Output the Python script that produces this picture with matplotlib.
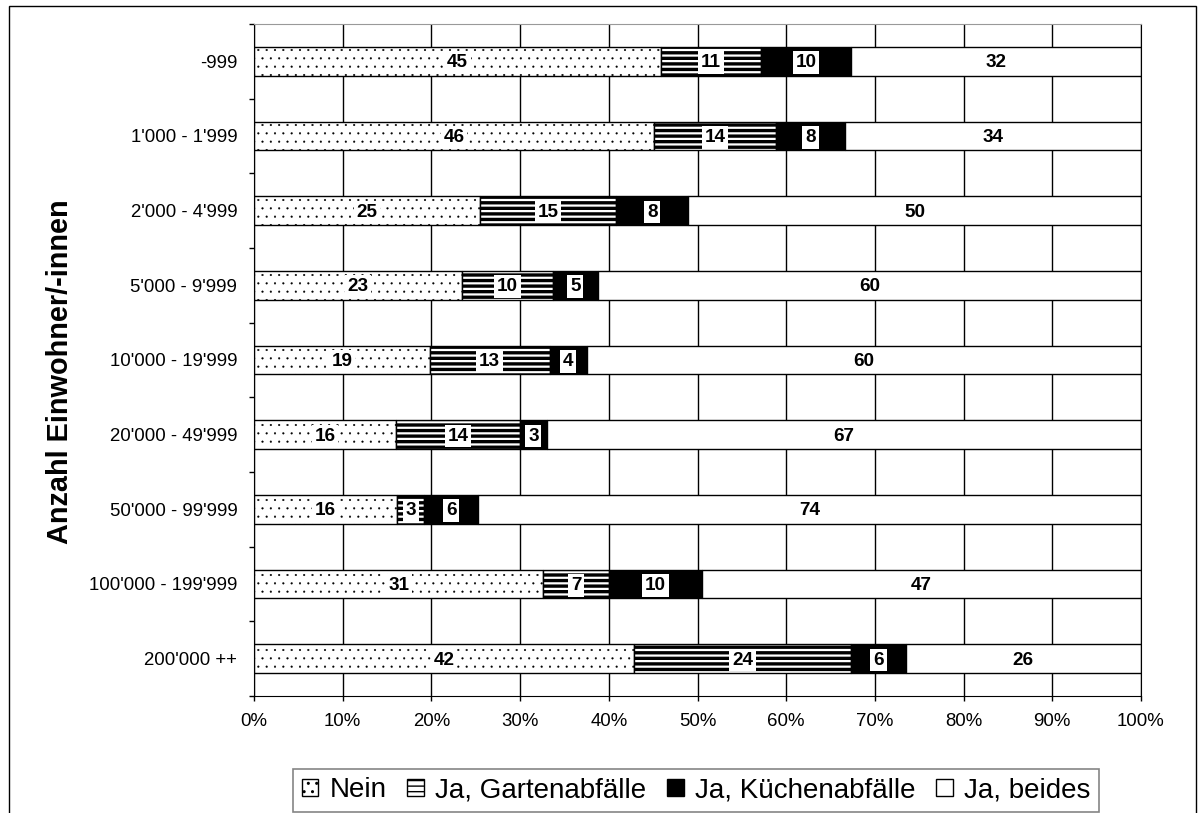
"""Stacked percent bar chart: Kompostierung nach Gemeindegrösse."""

import matplotlib
matplotlib.use("Agg")
import matplotlib.pyplot as plt
import numpy as np
from matplotlib.patches import Rectangle
from matplotlib.ticker import MultipleLocator, PercentFormatter

plt.rcParams["font.family"] = ["Liberation Sans", "DejaVu Sans"]

categories = [
    "-999", "1'000 - 1'999", "2'000 - 4'999", "5'000 - 9'999",
    "10'000 - 19'999", "20'000 - 49'999", "50'000 - 99'999",
    "100'000 - 199'999", "200'000 ++",
]
series_names = ["Nein", "Ja, Gartenabfälle", "Ja, Küchenabfälle", "Ja, beides"]
nein = [45, 46, 25, 23, 19, 16, 16, 31, 42]
garten = [11, 14, 15, 10, 13, 14, 3, 7, 24]
kueche = [10, 8, 8, 5, 4, 3, 6, 10, 6]
beides = [32, 34, 50, 60, 60, 67, 74, 47, 26]

values = np.array([nein, garten, kueche, beides], dtype=float)
shares = values / values.sum(axis=0)

styles = [
    dict(facecolor="white", hatch="..", hlw=0.3),
    dict(facecolor="white", hatch="---", hlw=2.4),
    dict(facecolor="black", hatch=None, hlw=1.0),
    dict(facecolor="white", hatch=None, hlw=1.0),
]

W, H = 1198, 813
fig = plt.figure(figsize=(W / 100, H / 100), dpi=100)
ax = fig.add_axes([254 / W, 1 - 696 / H, 887 / W, 672 / H])

y = np.arange(len(categories))
left = np.zeros(len(categories))
handles = []
for name, share, vals, st in zip(series_names, shares, values, styles):
    with plt.rc_context({"hatch.linewidth": st["hlw"]}):
        bars = ax.barh(y, share, left=left, height=0.38, color=st["facecolor"],
                       edgecolor="black", linewidth=1.0, hatch=st["hatch"],
                       label=name, zorder=2)
        for b in bars:
            if hasattr(b, "set_hatch_linewidth"):
                b.set_hatch_linewidth(st["hlw"])
    handles.append(bars)
    for yi, l, s, v in zip(y, left, share, vals):
        ax.text(l + s / 2, yi + 0.02, f"{v:.0f}", ha="center", va="center",
                fontsize=13.6, fontweight="bold", zorder=4,
                bbox=dict(boxstyle="square,pad=0.15", facecolor="white",
                          edgecolor="none"))
    left = left + share

ax.set_xlim(0, 1)
ax.set_ylim(len(categories) - 0.5, -0.5)
ax.xaxis.set_major_locator(MultipleLocator(0.1))
ax.xaxis.set_major_formatter(PercentFormatter(1.0, decimals=0))
ax.set_yticks(y)
ax.set_yticklabels(categories)
ax.set_yticks(np.arange(-0.5, len(categories)), minor=True)
ax.tick_params(axis="y", which="major", length=0, pad=12, labelsize=13.4)
ax.tick_params(axis="y", which="minor", length=3.6, width=1, direction="out")
ax.tick_params(axis="x", which="major", length=3.6, width=1, pad=9,
               labelsize=13.4)
ax.grid(axis="x", color="black", linewidth=1.0, zorder=0)
ax.set_axisbelow(True)
for side in ("left", "bottom", "right"):
    ax.spines[side].set_color("black")
ax.spines["top"].set_color("#999999")

fig.text(60 / W, 1 - 372 / H, "Anzahl Einwohner/-innen", rotation=90,
         ha="center", va="center", fontsize=20.8, fontweight="bold")

leg = fig.legend(handles, series_names, loc="lower center",
                 bbox_to_anchor=(696 / W, 1.5 / H), borderaxespad=0, ncol=4,
                 fontsize=20, frameon=True, fancybox=False, handlelength=0.6,
                 handleheight=0.6, handletextpad=0.4, columnspacing=0.75,
                 borderpad=0.3)
leg.get_frame().set_edgecolor("#666666")
leg.get_frame().set_linewidth(1.2)

fig.add_artist(Rectangle((9 / W, -0.02), 1187 / W, 1 - 6 / H + 0.02,
                         transform=fig.transFigure, fill=False,
                         edgecolor="black", linewidth=1.0))

fig.savefig("out.png", dpi=100)
